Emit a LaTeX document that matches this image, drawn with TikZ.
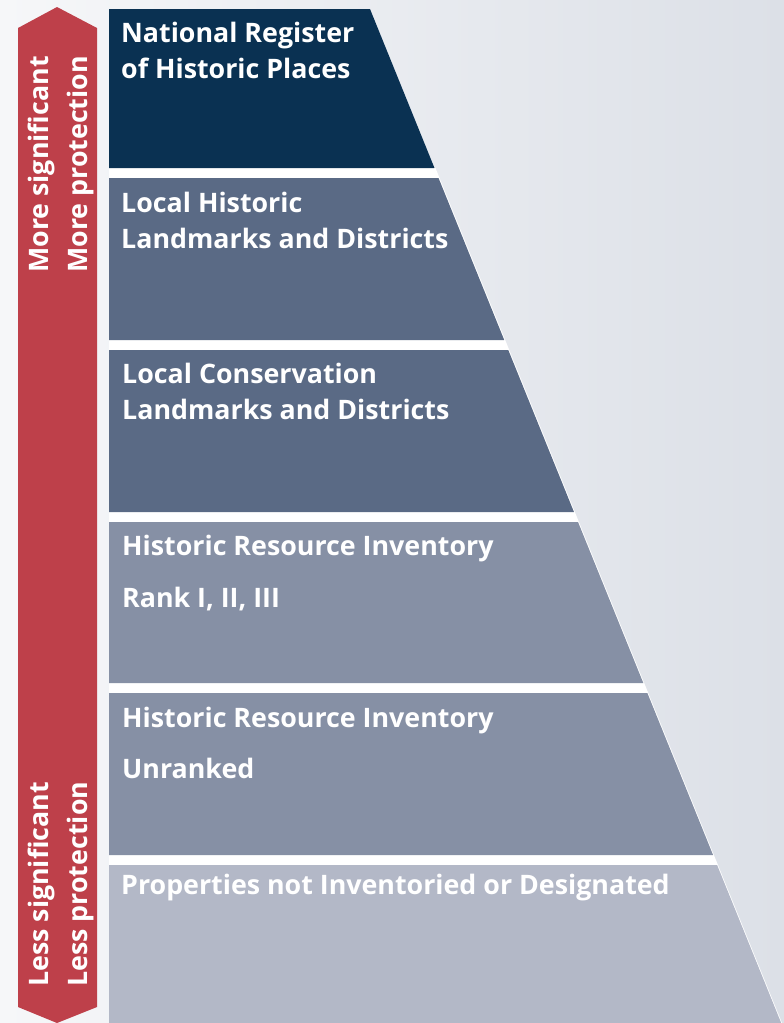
\documentclass[tikz,border=0pt]{standalone}
\usepackage{fontspec}
\setmainfont{Open Sans}
\usetikzlibrary{positioning}
\definecolor{paper}{RGB}{246,247,249}
\definecolor{mist}{RGB}{220,224,231}
\definecolor{crimson}{RGB}{190,64,74}
\definecolor{navy}{RGB}{10,49,82}
\definecolor{slate}{RGB}{90,106,133}
\definecolor{steel}{RGB}{134,144,165}
\definecolor{haze}{RGB}{179,184,199}
\tikzset{
  tier/.style={fill=#1},
  tier/.default=slate,
  tiertext/.style={anchor=base west,inner sep=0pt,text=white,align=left,
    font=\fontsize{26.8}{36}\selectfont\bfseries},
  sidetext/.style={tiertext,rotate=90,font=\fontsize{26.8}{39}\selectfont\bfseries},
}
\begin{document}
\begin{tikzpicture}[x=1pt,y=-1pt]
  \useasboundingbox (0,0) rectangle (784,1023);
  \shade[left color=paper,right color=mist] (0,0) rectangle (784,1023);
  % arrow
  \fill[crimson] (18,28) -- (57,7) -- (97,28) -- (97,1007) -- (57,1023) -- (18,1007) -- cycle;
  % tiers
  \fill[white] (109,168) -- ({371+0.4055*159},168) -- (782,1023) -- (109,1023) -- cycle;
  \foreach \ya/\yb/\col in {9/168/navy,178/340/slate,350/512/slate,522/683/steel,693/855/steel,865/1023/haze}
    \fill[tier=\col] (109,\ya) -- ({370+0.4055*(\ya-9)},\ya) -- ({370+0.4055*(\yb-9)},\yb) -- (109,\yb) -- cycle;
  % last line of each node sits on the given point
  \node[tiertext] (nrhp) at (121,78) {National Register\\of Historic Places};
  \node[tiertext] (lhld) at (121,248) {Local Historic\\Landmarks and Districts};
  \node[tiertext] (lcld) at (122,419) {Local Conservation\\Landmarks and Districts};
  \node[tiertext] (hri1) at (122,555) {Historic Resource Inventory};
  \node[tiertext] (rank) at (122,607) {Rank I, II, III};
  \node[tiertext] (hri2) at (122,727) {Historic Resource Inventory};
  \node[tiertext] (unranked) at (122,778) {Unranked};
  \node[tiertext] (none) at (121,894) {Properties not Inventoried or Designated};
  \node[sidetext] (more) at (87,273) {More significant\\More protection};
  \node[sidetext] (less) at (87,987) {Less significant\\Less protection};
\end{tikzpicture}
\end{document}
